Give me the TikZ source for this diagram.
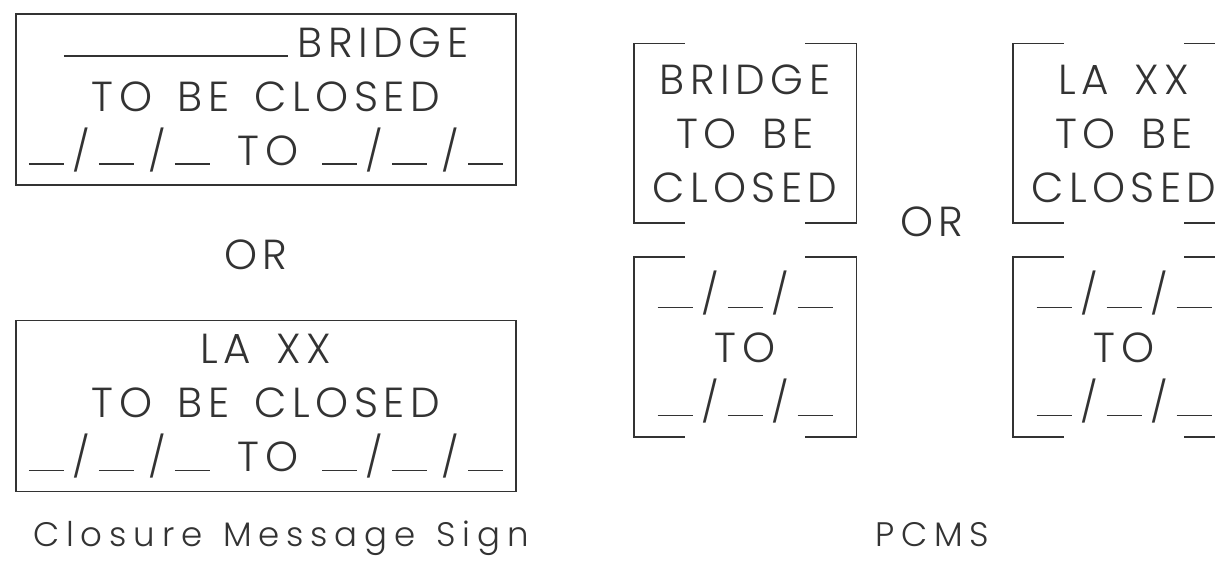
\documentclass[tikz,border=0pt]{standalone}
\usepackage{fontspec}
\usepackage{xcolor}
\usepackage{tikz}
\usetikzlibrary{positioning}
\newfontfamily\signface{Poppins Light}[LetterSpace=13,WordSpace=1.5]
\newfontfamily\capface{Poppins Light}[LetterSpace=20,WordSpace=1.3]
\definecolor{ink}{gray}{0.2}
% blank fields of the date lines
\newcommand{\ublank}{\rule{17.5pt}{0.9pt}}
\newcommand{\longblank}{\rule{112pt}{0.9pt}\hspace{5pt}}
\newcommand{\dslash}{\makebox[17.5pt]{\fontsize{20}{20}\selectfont/}}
\newcommand{\dateblank}{\ublank\dslash\ublank\dslash\ublank}
\newcommand{\datespaced}{\ublank\dslash\ublank\hspace{3pt}\dslash\ublank}
\tikzset{
  % --- closure message sign --------------------------------------------------
  cms/.style={draw=ink,line width=0.9pt,minimum width=250pt,
              minimum height=85.5pt,inner sep=0pt,align=center,text=ink,
              font=\signface\fontsize{21}{27}\selectfont},
  % --- portable changeable message sign (corners drawn as brackets) ---------
  pcms/.style={minimum width=111pt,minimum height=89.5pt,inner sep=0pt,
               align=center,text=ink,
               font=\signface\fontsize{21}{27}\selectfont},
  frame/.style={draw=ink,line width=0.9pt},
  ortext/.style={text=ink,font=\signface\fontsize{21}{27}\selectfont},
  caption/.style={text=ink,font=\capface\fontsize{17}{20}\selectfont},
}

\begin{document}
\begin{tikzpicture}[x=0.5pt, y=0.5pt]
  \clip (0,0) rectangle (1215,565);
  \fill[white] (0,0) rectangle (1215,565);

  % left: closure message sign
  \node[cms] (cms1) at (266,465.5)
    {\longblank BRIDGE\\TO BE CLOSED\\
     \datespaced\hspace{14pt}TO\hspace{12pt}\datespaced};
  \node[ortext] (or1) at (256,310) {OR};
  \node[cms] (cms2) at (266,159)
    {LA XX\\TO BE CLOSED\\
     \datespaced\hspace{14pt}TO\hspace{12pt}\datespaced};
  \node[caption,anchor=base] (cap1) at (281,18) {Closure Message Sign};

  % right: PCMS frames
  \node[pcms] (pa) at (745,431.5)  {BRIDGE\\TO BE\\CLOSED};
  \node[pcms] (pb) at (745,218)    {\dateblank\\TO\\\dateblank};
  \node[pcms] (pc) at (1124,431.5) {LA XX\\TO BE\\CLOSED};
  \node[pcms] (pd) at (1124,218)   {\dateblank\\TO\\\dateblank};
  \foreach \b in {pa,pb,pc,pd}{
    \draw[frame] ([xshift=25.5pt]\b.north west) -- (\b.north west)
      -- (\b.south west) -- ([xshift=25.5pt]\b.south west);
    \draw[frame] ([xshift=-25.5pt]\b.north east) -- (\b.north east)
      -- (\b.south east) -- ([xshift=-25.5pt]\b.south east);
  }
  \node[ortext] (or2) at (932,343) {OR};
  \node[caption,anchor=base] (cap2) at (932,18) {PCMS};
\end{tikzpicture}
\end{document}
